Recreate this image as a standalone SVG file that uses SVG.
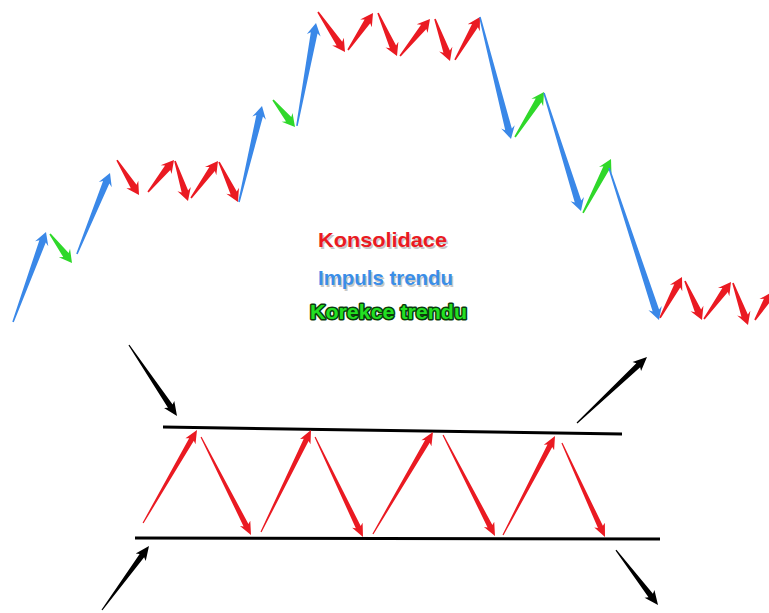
<svg xmlns="http://www.w3.org/2000/svg" width="769" height="613" viewBox="0 0 769 613">
<style>
.r{fill:#ea1a22}
.b{fill:#3a88e8}
.g{fill:#2fd82a}
.k{fill:#000}
.lbl{font-family:"Liberation Sans",Arial,sans-serif;font-weight:bold;font-size:21px}
.line{stroke:#000;stroke-width:3;fill:none}
</style>
<rect width="769" height="613" fill="#fff"/>
<g id="trend">
<polygon class="b" transform="translate(46,232) rotate(-69.9)" points="-95.9,-0.8 -10,-3.4 -12.5,-7 0,0 -12.5,7 -10,3.4 -95.9,0.8"/>
<polygon class="g" transform="translate(72,263) rotate(52.8)" points="-36.4,-0.8 -10,-3.4 -12.5,-7 0,0 -12.5,7 -10,3.4 -36.4,0.8"/>
<polygon class="b" transform="translate(110,173) rotate(-67.8)" points="-87.5,-0.8 -10,-3.4 -12.5,-7 0,0 -12.5,7 -10,3.4 -87.5,0.8"/>
<polygon class="r" transform="translate(139,195) rotate(57.8)" points="-41.3,-0.8 -10,-3.4 -12.5,-7 0,0 -12.5,7 -10,3.4 -41.3,0.8"/>
<polygon class="r" transform="translate(174,160) rotate(-50.9)" points="-41.2,-0.8 -10,-3.4 -12.5,-7 0,0 -12.5,7 -10,3.4 -41.2,0.8"/>
<polygon class="r" transform="translate(188,201) rotate(72)" points="-42.1,-0.8 -10,-3.4 -12.5,-7 0,0 -12.5,7 -10,3.4 -42.1,0.8"/>
<polygon class="r" transform="translate(218,161) rotate(-53.9)" points="-45.8,-0.8 -10,-3.4 -12.5,-7 0,0 -12.5,7 -10,3.4 -45.8,0.8"/>
<polygon class="r" transform="translate(238,202) rotate(64.6)" points="-44.3,-0.8 -10,-3.4 -12.5,-7 0,0 -12.5,7 -10,3.4 -44.3,0.8"/>
<polygon class="b" transform="translate(262,106) rotate(-76.5)" points="-98.7,-0.8 -10,-3.4 -12.5,-7 0,0 -12.5,7 -10,3.4 -98.7,0.8"/>
<polygon class="g" transform="translate(295,127) rotate(50.8)" points="-34.8,-0.8 -10,-3.4 -12.5,-7 0,0 -12.5,7 -10,3.4 -34.8,0.8"/>
<polygon class="b" transform="translate(316,23) rotate(-79.5)" points="-104.7,-0.8 -10,-3.4 -12.5,-7 0,0 -12.5,7 -10,3.4 -104.7,0.8"/>
<polygon class="r" transform="translate(345,52) rotate(56)" points="-48.3,-0.8 -10,-3.4 -12.5,-7 0,0 -12.5,7 -10,3.4 -48.3,0.8"/>
<polygon class="r" transform="translate(373,13) rotate(-56)" points="-44.7,-0.8 -10,-3.4 -12.5,-7 0,0 -12.5,7 -10,3.4 -44.7,0.8"/>
<polygon class="r" transform="translate(397,56) rotate(66.2)" points="-47,-0.8 -10,-3.4 -12.5,-7 0,0 -12.5,7 -10,3.4 -47,0.8"/>
<polygon class="r" transform="translate(430,19) rotate(-51)" points="-47.6,-0.8 -10,-3.4 -12.5,-7 0,0 -12.5,7 -10,3.4 -47.6,0.8"/>
<polygon class="r" transform="translate(450,61) rotate(70.3)" points="-44.6,-0.8 -10,-3.4 -12.5,-7 0,0 -12.5,7 -10,3.4 -44.6,0.8"/>
<polygon class="r" transform="translate(480,17) rotate(-59.8)" points="-49.7,-0.8 -10,-3.4 -12.5,-7 0,0 -12.5,7 -10,3.4 -49.7,0.8"/>
<polygon class="b" transform="translate(511,139) rotate(75.7)" points="-125.9,-0.8 -10,-3.4 -12.5,-7 0,0 -12.5,7 -10,3.4 -125.9,0.8"/>
<polygon class="g" transform="translate(544,92) rotate(-57.2)" points="-53.5,-0.8 -10,-3.4 -12.5,-7 0,0 -12.5,7 -10,3.4 -53.5,0.8"/>
<polygon class="b" transform="translate(581,211) rotate(72.6)" points="-123.7,-0.8 -10,-3.4 -12.5,-7 0,0 -12.5,7 -10,3.4 -123.7,0.8"/>
<polygon class="g" transform="translate(611,159) rotate(-62.6)" points="-60.8,-0.8 -10,-3.4 -12.5,-7 0,0 -12.5,7 -10,3.4 -60.8,0.8"/>
<polygon class="b" transform="translate(659,320) rotate(71.8)" points="-160,-0.8 -10,-3.4 -12.5,-7 0,0 -12.5,7 -10,3.4 -160,0.8"/>
<polygon class="r" transform="translate(682,277) rotate(-61.8)" points="-46.5,-0.8 -10,-3.4 -12.5,-7 0,0 -12.5,7 -10,3.4 -46.5,0.8"/>
<polygon class="r" transform="translate(702,320) rotate(66.4)" points="-42.5,-0.8 -10,-3.4 -12.5,-7 0,0 -12.5,7 -10,3.4 -42.5,0.8"/>
<polygon class="r" transform="translate(731,282) rotate(-53.9)" points="-45.8,-0.8 -10,-3.4 -12.5,-7 0,0 -12.5,7 -10,3.4 -45.8,0.8"/>
<polygon class="r" transform="translate(748,325) rotate(70.3)" points="-44.6,-0.8 -10,-3.4 -12.5,-7 0,0 -12.5,7 -10,3.4 -44.6,0.8"/>
<polygon class="r" transform="translate(772,292) rotate(-58.7)" points="-32.8,-0.8 -10,-3.4 -12.5,-7 0,0 -12.5,7 -10,3.4 -32.8,0.8"/>
</g>
<g id="legend">
<text class="lbl" x="319.5" y="248.5" fill="#c8c8c8" textLength="129" lengthAdjust="spacingAndGlyphs">Konsolidace</text>
<text class="lbl" x="318" y="247" fill="#ea1a22" textLength="129" lengthAdjust="spacingAndGlyphs">Konsolidace</text>
<text class="lbl" x="319.5" y="286.5" fill="#c8c8c8" textLength="135" lengthAdjust="spacingAndGlyphs">Impuls trendu</text>
<text class="lbl" x="318" y="285" fill="#3a8ee8" textLength="135" lengthAdjust="spacingAndGlyphs">Impuls trendu</text>
<text class="lbl" x="310" y="319" fill="#22e022" stroke="#0b3b0b" stroke-width="3" paint-order="stroke" stroke-linejoin="round" textLength="157" lengthAdjust="spacingAndGlyphs">Korekce trendu</text>
</g>
<g id="channel">
<line class="line" x1="163" y1="427" x2="622" y2="434"/>
<line class="line" x1="135" y1="538" x2="660" y2="539"/>
</g>
<g id="channel-moves">
<polygon class="r" transform="translate(197,430) rotate(-59.9)" points="-107.5,-0.6 -11,-2.7 -13,-5.8 0,0 -13,5.8 -11,2.7 -107.5,0.6"/>
<polygon class="r" transform="translate(251,535) rotate(63)" points="-110,-0.6 -11,-2.7 -13,-5.8 0,0 -13,5.8 -11,2.7 -110,0.6"/>
<polygon class="r" transform="translate(311,430) rotate(-63.9)" points="-113.6,-0.6 -11,-2.7 -13,-5.8 0,0 -13,5.8 -11,2.7 -113.6,0.6"/>
<polygon class="r" transform="translate(363,537) rotate(64.4)" points="-110.9,-0.6 -11,-2.7 -13,-5.8 0,0 -13,5.8 -11,2.7 -110.9,0.6"/>
<polygon class="r" transform="translate(433,432) rotate(-59.5)" points="-118.3,-0.6 -11,-2.7 -13,-5.8 0,0 -13,5.8 -11,2.7 -118.3,0.6"/>
<polygon class="r" transform="translate(495,536) rotate(62.8)" points="-113.6,-0.6 -11,-2.7 -13,-5.8 0,0 -13,5.8 -11,2.7 -113.6,0.6"/>
<polygon class="r" transform="translate(555,436) rotate(-62.3)" points="-111.8,-0.6 -11,-2.7 -13,-5.8 0,0 -13,5.8 -11,2.7 -111.8,0.6"/>
<polygon class="r" transform="translate(605,537) rotate(65.4)" points="-103.4,-0.6 -11,-2.7 -13,-5.8 0,0 -13,5.8 -11,2.7 -103.4,0.6"/>
</g>
<g id="breakouts">
<polygon class="k" transform="translate(177,416) rotate(55.9)" points="-85.7,-0.6 -12,-2.8 -14,-6.2 0,0 -14,6.2 -12,2.8 -85.7,0.6"/>
<polygon class="k" transform="translate(149,546) rotate(-53.7)" points="-79.4,-0.6 -12,-2.8 -14,-6.2 0,0 -14,6.2 -12,2.8 -79.4,0.6"/>
<polygon class="k" transform="translate(647,357) rotate(-43.3)" points="-96.2,-0.6 -12,-2.8 -14,-6.2 0,0 -14,6.2 -12,2.8 -96.2,0.6"/>
<polygon class="k" transform="translate(658,605) rotate(52.6)" points="-69.2,-0.6 -12,-2.8 -14,-6.2 0,0 -14,6.2 -12,2.8 -69.2,0.6"/>
</g>
</svg>
